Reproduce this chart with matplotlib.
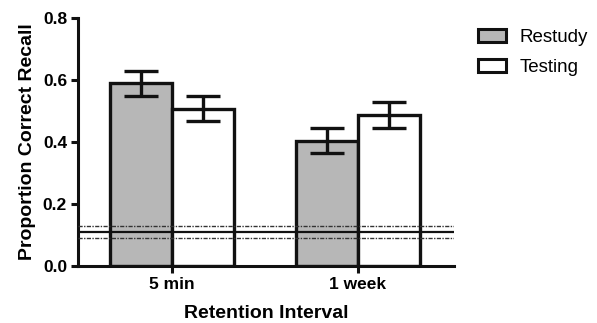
import numpy as np
import matplotlib.pyplot as plt
from matplotlib.patches import Patch

plt.rcParams['font.family'] = ['Liberation Sans', 'DejaVu Sans']

# Data
intervals = ['5 min', '1 week']
restudy = [0.59, 0.405]
restudy_err = [0.04, 0.04]
testing = [0.508, 0.487]
testing_err = [0.04, 0.043]
chance = 0.11
chance_lo = 0.09
chance_hi = 0.128

fig = plt.figure(figsize=(5.97, 3.23), dpi=100)
ax = fig.add_axes([0.131, 0.176, 0.629, 0.768])

x = np.arange(len(intervals))
w = 0.335
lw = 2.4

ax.bar(x - w / 2, restudy, w, color='#b7b7b7', edgecolor='#111111', linewidth=lw, zorder=2)
ax.bar(x + w / 2, testing, w, color='white', edgecolor='#111111', linewidth=lw, zorder=2)
ax.errorbar(x - w / 2, restudy, yerr=restudy_err, fmt='none', ecolor='#111111',
            elinewidth=lw, capsize=12.5, capthick=lw, zorder=3)
ax.errorbar(x + w / 2, testing, yerr=testing_err, fmt='none', ecolor='#111111',
            elinewidth=lw, capsize=12.5, capthick=lw, zorder=3)

ax.axhline(chance, color='#111111', linewidth=1.6, zorder=4)
ax.axhline(chance_lo, color='#333333', linewidth=1.0, linestyle=(0, (3, 1, 1, 1)), zorder=4)
ax.axhline(chance_hi, color='#333333', linewidth=1.0, linestyle=(0, (3, 1, 1, 1)), zorder=4)

ax.set_xlim(-0.505, 1.516)
ax.set_ylim(0, 0.8)
ax.set_yticks([0.0, 0.2, 0.4, 0.6, 0.8])
ax.set_yticklabels(['0.0', '0.2', '0.4', '0.6', '0.8'])
ax.set_xticks(x)
ax.set_xticklabels(intervals)

for s in ['top', 'right']:
    ax.spines[s].set_visible(False)
for s in ['left', 'bottom']:
    ax.spines[s].set_linewidth(2.2)
    ax.spines[s].set_color('#111111')
ax.tick_params(width=2.2, length=5, color='#111111', labelsize=12.5, pad=3)
for t in ax.get_xticklabels() + ax.get_yticklabels():
    t.set_fontweight('bold')

ax.set_ylabel('Proportion Correct Recall', fontsize=14, fontweight='bold', labelpad=5)
ax.set_xlabel('Retention Interval', fontsize=14, fontweight='bold', labelpad=9)

handles = [Patch(facecolor='#b7b7b7', edgecolor='#111111', linewidth=2.2, label='Restudy'),
           Patch(facecolor='white', edgecolor='#111111', linewidth=2.2, label='Testing')]
fig.legend(handles=handles, loc='upper left', bbox_to_anchor=(0.794, 0.922), frameon=False,
           fontsize=13.5, handlelength=1.5, handleheight=0.7, handletextpad=0.75,
           labelspacing=0.7, borderpad=0.2, borderaxespad=0.0)

fig.savefig('out.png', dpi=100)
plt.close()
